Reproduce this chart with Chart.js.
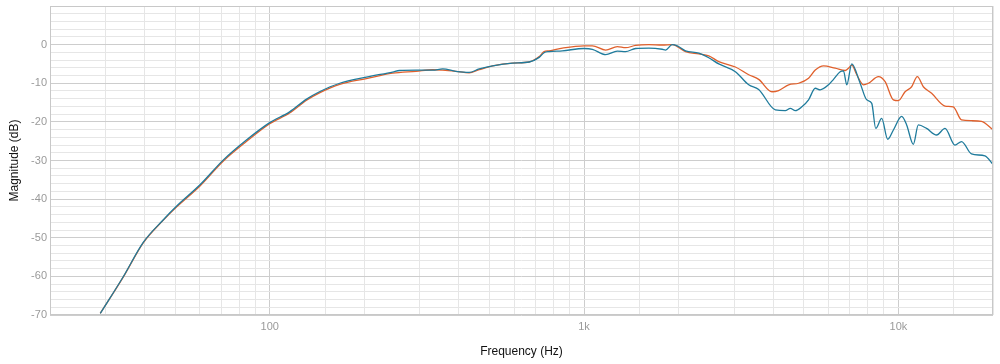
<!DOCTYPE html>
<html>
<head>
<meta charset="utf-8">
<script src="https://cdn.jsdelivr.net/npm/chart.js@4.4.0/dist/chart.umd.min.js"></script>
<style>
  body { margin: 0; background: #fff; }
</style>
</head>
<body>
<canvas id="myChart" width="1000" height="364"></canvas>
<script>
// measured response, orange trace
var orangeFreq = [28.9, 34.2, 39.6, 45.8, 50.6, 60, 71.1, 84.3, 100, 115.7, 131, 144, 167, 203, 246, 292, 330, 355, 391, 431, 464, 512, 592, 669, 720, 746, 774, 853, 1000, 1063, 1172, 1276, 1356, 1459, 1608, 1773, 1907, 1979, 2103, 2318, 2494, 2683, 3030, 3341, 3594, 3961, 4159, 4476, 4815, 5179, 5440, 5780, 6295, 6772, 6939, 7107, 7372, 7743, 8031, 8641, 9075, 9641, 10000, 10503, 11021, 11490, 12005, 12755, 14071, 14947, 15885, 17085, 18385, 20000];
var orangeDb = [-69.6, -60.2, -51.3, -45.5, -42.0, -36.6, -30.2, -25.1, -20.5, -17.7, -14.4, -12.5, -10.3, -8.8, -7.4, -6.9, -6.5, -6.6, -6.9, -7.3, -6.5, -5.5, -4.8, -4.5, -3.1, -1.8, -1.6, -0.9, -0.3, -0.3, -1.4, -0.5, -0.8, -0.2, 0, -0.1, 0, -0.5, -1.8, -2.4, -2.9, -4.4, -5.8, -7.8, -9.0, -12.2, -11.9, -10.4, -10.0, -8.7, -6.6, -5.5, -6.1, -6.7, -6.1, -5.3, -7.8, -10.4, -10.0, -8.3, -9.6, -14.3, -14.5, -12.2, -10.9, -8.3, -10.9, -12.6, -15.9, -16.1, -19.5, -19.7, -19.9, -22.0];

// measured response, blue trace
var blueFreq = [28.9, 34.2, 39.6, 45.8, 50.6, 60, 71.1, 84.3, 100, 115.7, 131, 144, 167, 203, 246, 259, 292, 330, 355, 391, 431, 464, 512, 592, 669, 720, 746, 774, 853, 1000, 1063, 1172, 1276, 1356, 1459, 1608, 1773, 1817, 1907, 1979, 2103, 2318, 2494, 2683, 3030, 3341, 3594, 4061, 4368, 4532, 4700, 4932, 5179, 5440, 5641, 5995, 6218, 6529, 6689, 6853, 7107, 7557, 7932, 8228, 8472, 8851, 9247, 9641, 10245, 10625, 11158, 11574, 12296, 13230, 14071, 15136, 15885, 17085, 18849, 20000];
var blueDb = [-69.6, -60.1, -51.2, -45.4, -41.8, -36.3, -29.9, -24.7, -20.2, -17.4, -14.1, -12.2, -10.0, -8.4, -7.1, -6.7, -6.6, -6.6, -6.3, -6.9, -7.2, -6.3, -5.5, -4.8, -4.5, -3.3, -2.1, -1.8, -1.6, -1.0, -1.2, -2.6, -1.7, -1.8, -1.0, -0.9, -1.2, -1.4, 0, -0.3, -1.6, -2.2, -3.4, -5.0, -7.0, -10.4, -11.6, -16.9, -17.1, -16.5, -17.1, -16.1, -14.3, -11.3, -11.7, -10.4, -9.0, -7.0, -6.8, -10.4, -5.0, -10.0, -14.3, -15.2, -21.7, -19.1, -24.5, -22.1, -18.6, -20.8, -25.8, -20.8, -21.7, -23.4, -21.7, -26.0, -25.1, -28.3, -28.8, -31.0];

var xLabels = { 100: "100", 1000: "1k", 10000: "10k" };
var yMin = -70;
var yMax = 10;

var toPoints = function (freqs, dbs) {
  return freqs.map(function (f, i) { return { x: f, y: dbs[i] }; });
};

var isDecade = function (v) {
  var l = Math.log10(v);
  return Math.abs(l - Math.round(l)) < 1e-6;
};

var frame = {
  id: "frame",
  afterDraw: function (chart) {
    var a = chart.chartArea;
    var c = chart.ctx;
    c.save();
    c.strokeStyle = "#c8c8c8";
    c.lineWidth = 1;
    c.strokeRect(a.left + 0.5, a.top + 0.5, a.right - a.left - 1, a.bottom - a.top - 1);
    c.restore();
  }
};

var ctx = document.getElementById("myChart");
var myChart = new Chart(ctx, {
  type: 'line',
  data: {
    datasets: [{
      label: "Blue",
      data: toPoints(blueFreq, blueDb),
      borderColor: "#1f7b9c",
      borderWidth: 1.3,
      pointRadius: 0,
      cubicInterpolationMode: 'monotone',
      fill: false
    }, {
      label: "Orange",
      data: toPoints(orangeFreq, orangeDb),
      borderColor: "#e0602c",
      borderWidth: 1.3,
      pointRadius: 0,
      cubicInterpolationMode: 'monotone',
      fill: false
    }]
  },
  options: {
    responsive: false,
    animation: false,
    layout: { padding: { top: 6, right: 7, left: 0, bottom: 0 } },
    plugins: { legend: { display: false }, tooltip: { enabled: false } },
    scales: {
      x: {
        type: 'logarithmic',
        min: 20,
        max: 20000,
        afterFit: function (s) { s.height = 49; s.paddingLeft = 0; s.paddingRight = 0; },
        grid: {
          drawTicks: false,
          color: function (c) { return c.tick && isDecade(c.tick.value) ? "#cdcdcd" : "#e6e6e6"; }
        },
        border: { display: false },
        ticks: {
          autoSkip: false,
          maxRotation: 0,
          padding: 5,
          color: "#9a9a9a",
          font: { family: "'Liberation Sans', Arial, sans-serif", size: 11 },
          callback: function (v) { return xLabels[v] || ""; }
        },
        title: {
          display: true,
          text: "Frequency (Hz)",
          color: "#111",
          font: { family: "'Liberation Sans', Arial, sans-serif", size: 12 },
          padding: { top: 0, bottom: 5 }
        }
      },
      y: {
        min: yMin,
        max: yMax,
        afterFit: function (s) { s.width = 50; s.paddingTop = 0; s.paddingBottom = 0; },
        grid: {
          drawTicks: false,
          color: function (c) { return c.tick && c.tick.value % 10 === 0 ? "#cdcdcd" : "#e6e6e6"; }
        },
        border: { display: false },
        ticks: {
          stepSize: 2,
          autoSkip: false,
          padding: 3,
          color: "#9a9a9a",
          font: { family: "'Liberation Sans', Arial, sans-serif", size: 11 },
          callback: function (v) { return (v % 10 === 0 && v <= 0) ? String(v) : ""; }
        },
        title: {
          display: true,
          text: "Magnitude (dB)",
          color: "#111",
          font: { family: "'Liberation Sans', Arial, sans-serif", size: 12 },
          padding: { top: 7, bottom: 0 }
        }
      }
    }
  },
  plugins: [frame]
});
</script>
</body>
</html>
